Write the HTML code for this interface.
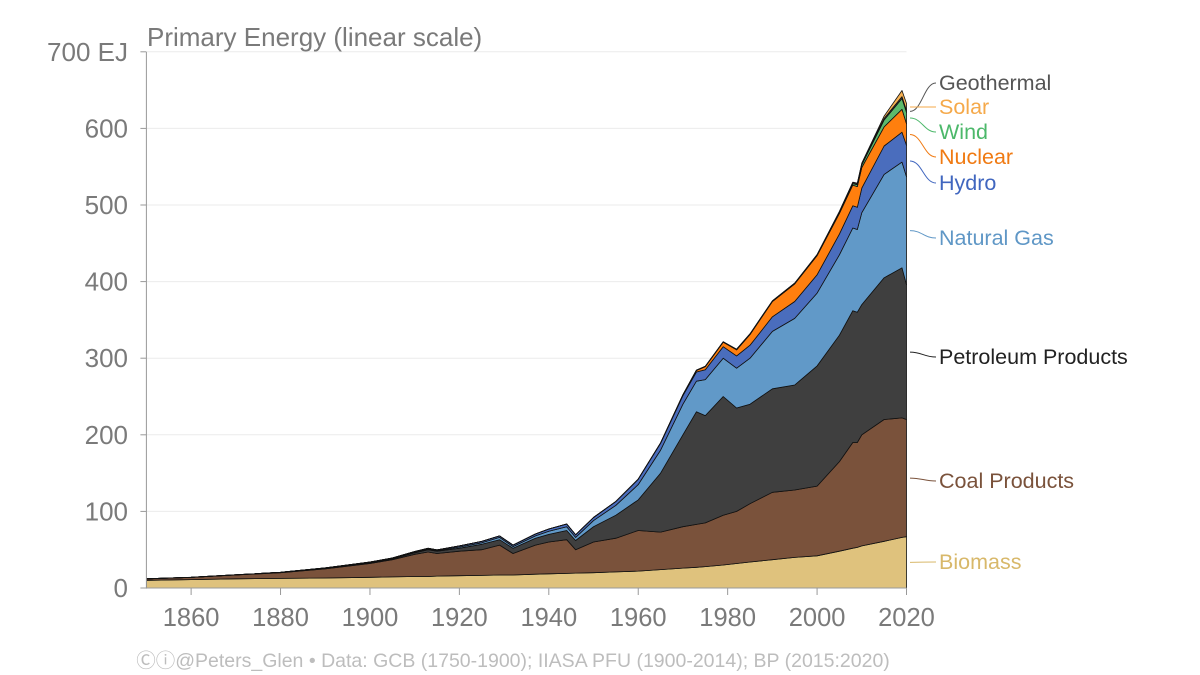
<!DOCTYPE html>
<html><head><meta charset="utf-8"><style>
body{margin:0;background:#fff;}
svg{display:block;font-family:"Liberation Sans",sans-serif;}
</style></head><body>
<svg id="chart" width="1200" height="675" viewBox="0 0 1200 675"></svg>
<script>
const years=[1850,1860,1870,1880,1890,1900,1905,1910,1913,1915,1920,1925,1929,1932,1937,1940,1944,1946,1950,1955,1960,1965,1970,1973,1975,1979,1982,1985,1990,1995,2000,2005,2008,2009,2010,2015,2019,2020];
const biomass=[10,11,12,12.5,13,14,14.5,15,15,15.5,16,16.5,17,17,18,18.5,19,19.5,20,21,22,24,26,27,28,30,32,34,37,40,42,48,52,53,55,61,66,67];
const coal=[2,3,5,7.5,12,18,22.5,29,32,29.5,32,33.5,39,28,38,41.5,44,30.5,40,44,53,49,54,56,57,65,68,76,88,88,91,117,138,137,145,159,156,153];
const petroleum=[0,0,0.2,0.5,1,1,1,2,3,3,4,7,7,7,9,10,12,12,20,30,40,77,120,147,140,155,135,130,135,137,157,165,172,170,170,185,196,176];
const gas=[0,0,0,0,0.2,0.5,0.6,0.8,0.8,0.8,1.5,2,3,2,3,4,5,4,8,13,20,30,40,40,47,50,52,60,75,87,95,105,108,108,120,135,138,141];
const hydro=[0,0,0,0,0,0.5,0.6,0.8,1,1,1.5,1.8,2,2,2.5,3,3.5,3.5,4,5,7,9,11,12,13,15,16,17,19,22,24,27,29,29,32,37,39,41];
const nuclear=[0,0,0,0,0,0,0,0,0,0,0,0,0,0,0,0,0,0,0,0,0,0.2,1,2,4,6,8,14,20,23,25,27,27,27,27,25,30,28];
const wind=[0,0,0,0,0,0,0,0,0,0,0,0,0,0,0,0,0,0,0,0,0,0,0,0,0,0,0,0,0.1,0.1,0.3,1,2,2.5,3.5,9,14,15];
const geothermal=[0,0,0,0,0,0,0,0,0,0,0,0,0,0,0,0,0,0,0,0,0.2,0.3,0.4,0.5,0.5,0.6,0.7,0.8,0.9,1,1,1.5,1.5,1.5,1.6,2,2.5,2.5];
const solar=[0,0,0,0,0,0,0,0,0,0,0,0,0,0,0,0,0,0,0,0,0,0,0,0,0,0,0,0,0,0,0.05,0.1,0.3,0.4,0.6,3,8,9];
const yTicks=[0,100,200,300,400,500,600,700];
const xTicks=[1860,1880,1900,1920,1940,1960,1980,2000,2020];

const X0=146.4, X1=906.5, Y0=588, PPU=0.766;
const xs=y=>X0+(y-1850)*(X1-X0)/170;
const ys=v=>Y0-v*PPU;
const svg=document.getElementById('chart');
const NS='http://www.w3.org/2000/svg';
function mk(t,a,p){const e=document.createElementNS(NS,t);for(const k in a)e.setAttribute(k,a[k]);(p||svg).appendChild(e);return e;}

yTicks.forEach(v=>{
  if(v>0){const g=mk('line',{x1:X0,x2:X1,y1:ys(v),y2:ys(v),stroke:'#ebebeb','stroke-width':1});
  
  }
  const tk=mk('line',{x1:X0-6,x2:X0,y1:ys(v),y2:ys(v),stroke:'#999','stroke-width':1});
  
  
  const t=mk('text',{x:128,y:ys(v)+9,'text-anchor':'end','font-size':26,fill:'#7a7a7a'});
  t.textContent=v===700?'700 EJ':String(v);
  
  
});

const layers=[
 ['biomass',biomass,'#dfc27d'],['coal',coal,'#7a523b'],['petroleum',petroleum,'#3f3f3f'],
 ['natural-gas',gas,'#6199c8'],['hydro',hydro,'#4a6dbd'],['nuclear',nuclear,'#ff7f0e'],
 ['wind',wind,'#5cba6c'],['geothermal',geothermal,'#555555'],['solar',solar,'#f7b254']];
let base=years.map(()=>0);
const mids={};
layers.forEach(([n,arr,c])=>{
  const top=base.map((b,i)=>b+arr[i]);
  let d='M'+years.map((y,i)=>xs(y).toFixed(1)+','+ys(top[i]).toFixed(1)).join('L');
  for(let i=years.length-1;i>=0;i--)d+='L'+xs(years[i]).toFixed(1)+','+ys(base[i]).toFixed(1);
  d+='Z';
  const p=mk('path',{d:d,fill:c,stroke:'#111','stroke-width':0.8,'stroke-linejoin':'round'});
  
  
  const L=years.length-1;
  mids[n]=ys((base[L]+top[L])/2);
  base=top;
});

const ax=mk('line',{x1:X0,x2:X0,y1:52,y2:Y0,stroke:'#999','stroke-width':1});


const bx=mk('line',{x1:X0,x2:X1,y1:Y0,y2:Y0,stroke:'#999','stroke-width':1});


xTicks.forEach(y=>{
  const tk=mk('line',{x1:xs(y),x2:xs(y),y1:Y0,y2:Y0+7,stroke:'#999','stroke-width':1});
  
  
  const t=mk('text',{x:xs(y),y:Y0+38,'text-anchor':'middle','font-size':25.5,fill:'#7a7a7a'});
  t.textContent=String(y);
  
  
});

const labs=[['geothermal','Geothermal',83,'#555555'],['solar','Solar',107,'#f5a94a'],['wind','Wind',132,'#4cb86a'],
 ['nuclear','Nuclear',157,'#f07a12'],['hydro','Hydro',183,'#4066bf'],['natural-gas','Natural Gas',238,'#5f97c6'],
 ['petroleum','Petroleum Products',357,'#222222'],['coal','Coal Products',481,'#7a523b'],['biomass','Biomass',562,'#d8b86a']];
labs.forEach(([k,txt,y,c])=>{
  const sy=mids[k];
  const p=mk('path',{d:`M910,${sy} C922,${sy} 924,${y} 936,${y}`,fill:'none',stroke:c,'stroke-width':1});
  
  
  const t=mk('text',{x:939,y:y+7,'font-size':21.5,fill:c});
  t.textContent=txt;
  
  
});

const title=mk('text',{x:147,y:46,'font-size':26,fill:'#7a7a7a'});
title.textContent='Primary Energy (linear scale)';


const foot=mk('text',{x:513,y:667,'text-anchor':'middle','font-size':19.5,fill:'#bdbdbd'});
foot.textContent='\u24b8\u24d8@Peters_Glen  \u2022  Data: GCB (1750-1900); IIASA PFU (1900-2014); BP (2015:2020)';


</script>
</body></html>
